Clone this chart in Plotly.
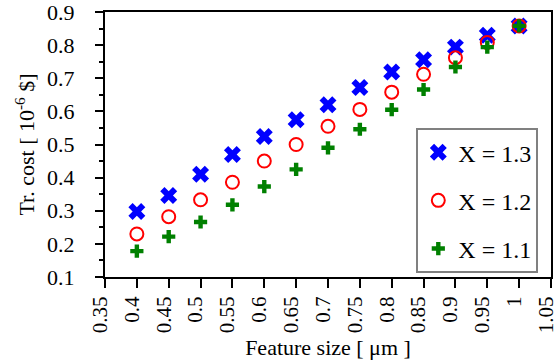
import plotly.graph_objects as go

feature = [0.4, 0.45, 0.5, 0.55, 0.6, 0.65, 0.7, 0.75, 0.8, 0.85, 0.9, 0.95, 1.0]
cost_13 = [0.298, 0.346, 0.41, 0.47, 0.524, 0.575, 0.62, 0.672, 0.719, 0.756, 0.794, 0.830, 0.858]
cost_12 = [0.230, 0.282, 0.333, 0.386, 0.450, 0.500, 0.555, 0.606, 0.658, 0.712, 0.762, 0.808, 0.858]
cost_11 = [0.178, 0.222, 0.266, 0.318, 0.373, 0.425, 0.490, 0.546, 0.605, 0.666, 0.734, 0.794, 0.858]

x_ticks = [0.35, 0.4, 0.45, 0.5, 0.55, 0.6, 0.65, 0.7, 0.75, 0.8, 0.85, 0.9, 0.95, 1, 1.05]
x_tick_text = ["0.35", "0.4", "0.45", "0.5", "0.55", "0.6", "0.65", "0.7", "0.75", "0.8", "0.85", "0.9", "0.95", "1", "1.05"]
y_ticks = [0.1, 0.2, 0.3, 0.4, 0.5, 0.6, 0.7, 0.8, 0.9]
y_tick_text = ["0.1", "0.2", "0.3", "0.4", "0.5", "0.6", "0.7", "0.8", "0.9"]

FONT = "Liberation Serif"
FS = 22

fig = go.Figure()
fig.add_trace(go.Scatter(
    x=feature, y=cost_13, mode="markers", name="X = 1.3", legendgroup="a",
    marker=dict(symbol="x", size=15, color="#0000FF", line=dict(width=0)),
))
fig.add_trace(go.Scatter(
    x=feature, y=cost_12, mode="markers", name="X = 1.2", legendgroup="b",
    marker=dict(symbol="circle-open", size=13, color="#FF0000", line=dict(width=2, color="#FF0000")),
))
fig.add_trace(go.Scatter(
    x=feature, y=cost_11, mode="markers", name="X = 1.1", legendgroup="c",
    marker=dict(symbol="cross", size=11, color="#008000", line=dict(width=0)),
))

fig.update_layout(
    width=558, height=364,
    margin=dict(l=105, r=7, t=12, b=87, autoexpand=False),
    paper_bgcolor="white", plot_bgcolor="white",
    font=dict(family=FONT, size=FS, color="black"),
    showlegend=True,
    legend=dict(
        x=0.698, y=0.562, xanchor="left", yanchor="top",
        bordercolor="#808080", borderwidth=2, bgcolor="white",
        font=dict(family=FONT, size=24),
        tracegroupgap=14, traceorder="grouped",
    ),
    xaxis=dict(
        range=[0.35, 1.05], tickmode="array", tickvals=x_ticks, ticktext=x_tick_text,
        tickangle=-90, ticks="outside", ticklen=9, tickwidth=2, tickcolor="black",
        ticklabeloverflow="allow", automargin=False, ticklabelshift=-5,
        showline=True, linewidth=2, linecolor="black", mirror=True,
        showgrid=False, zeroline=False,
        title=dict(text="Feature size [ μm ]", font=dict(family=FONT, size=FS), standoff=7),
        tickfont=dict(family=FONT, size=21),
    ),
    yaxis=dict(
        range=[0.1, 0.9], tickmode="array", tickvals=y_ticks, ticktext=y_tick_text,
        ticks="outside", ticklen=8, tickwidth=2, tickcolor="black",
        ticklabeloverflow="allow", automargin=False,
        minor=dict(dtick=0.05, ticks="outside", ticklen=4, tickwidth=2, tickcolor="black", showgrid=False),
        showline=True, linewidth=2, linecolor="black", mirror=True,
        showgrid=False, zeroline=False,
        ticklabelstandoff=16,
        title=dict(text="Tr. cost [ 10<sup>-6</sup> $]", font=dict(family=FONT, size=FS), standoff=6),
        tickfont=dict(family=FONT, size=FS),
    ),
)

fig.write_html("out.html")
